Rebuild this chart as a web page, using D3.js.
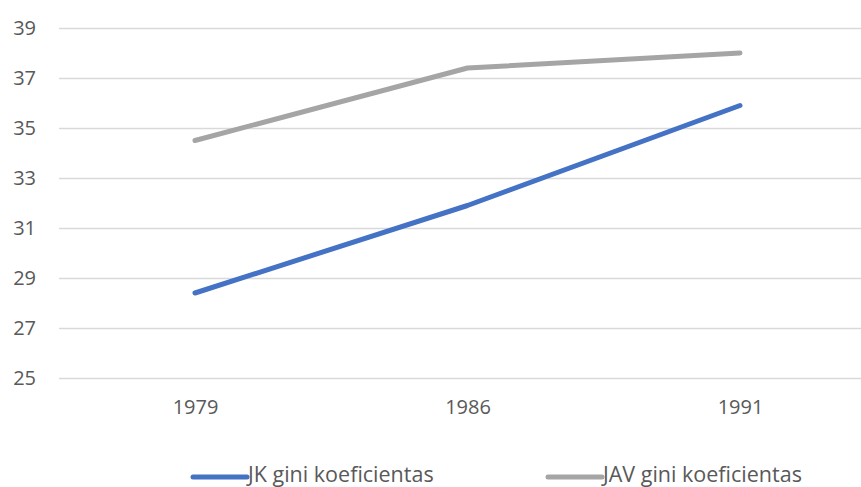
<!DOCTYPE html>
<html>
<head>
<meta charset="utf-8">
<script src="https://cdn.jsdelivr.net/npm/d3@7"></script>
<style>
  body { margin: 0; background: #fff; }
  svg { display: block; }
  svg text { font-family: "Open Sans", "Noto Sans", sans-serif; }
</style>
</head>
<body>
<svg id="chart" width="861" height="487"></svg>
<script>
var years = ["1979", "1986", "1991"];
var jkValues = [28.4, 31.9, 35.9];
var javValues = [34.5, 37.4, 38.0];
var yTicks = [25, 27, 29, 31, 33, 35, 37, 39];
var seriesNames = ["JK gini koeficientas", "JAV gini koeficientas"];
var seriesColors = ["#4472C4", "#A5A5A5"];

var svg = d3.select("#chart");
var fontFam = '"Open Sans", "Noto Sans", sans-serif';

// plot area runs a bit past the right edge, as in the original
var xScale = d3.scalePoint().domain(years).range([195, 740]),
    yScale = d3.scaleLinear().domain([25, 39]).range([378, 28]);

var g = svg.append("g");

g.append("g")
 .attr("transform", "translate(59,0)")
 .attr("font-family", fontFam)
 .call(d3.axisLeft(yScale).tickValues(yTicks).tickSize(-(876 - 59)).tickPadding(23))
 .call(function(a){
    a.select(".domain").remove();
    a.selectAll(".tick line").attr("stroke", "#D9D9D9").attr("stroke-width", 1.5);
    a.selectAll(".tick text").attr("fill", "#595959").attr("font-size", "20px");
 });

g.append("g")
 .attr("transform", "translate(0,378)")
 .attr("font-family", fontFam)
 .call(d3.axisBottom(xScale).tickSize(0).tickPadding(22))
 .call(function(a){
    a.select(".domain").remove();
    a.selectAll(".tick text").attr("fill", "#595959").attr("font-size", "20px");
 });

var series = [jkValues, javValues];
var line = d3.line()
    .x(function(d, i) { return xScale(years[i]); })
    .y(function(d) { return yScale(d); });

// gray drawn first, blue on top
[1, 0].forEach(function(k){
    g.append("path")
     .datum(series[k])
     .attr("fill", "none")
     .attr("stroke", seriesColors[k])
     .attr("stroke-width", 5)
     .attr("stroke-linecap", "round")
     .attr("stroke-linejoin", "round")
     .attr("d", line);
});

var legendX = [193, 548];
var legend = svg.append("g").attr("font-family", fontFam);
seriesNames.forEach(function(name, i){
    legend.append("line")
     .attr("x1", legendX[i]).attr("x2", legendX[i] + 54)
     .attr("y1", 477).attr("y2", 477)
     .attr("stroke", seriesColors[i])
     .attr("stroke-width", 5)
     .attr("stroke-linecap", "round");
    legend.append("text")
     .attr("x", legendX[i] + 55)
     .attr("y", 482)
     .attr("fill", "#595959")
     .attr("font-size", "21.5px")
     .text(name);
});
</script>
</body>
</html>
